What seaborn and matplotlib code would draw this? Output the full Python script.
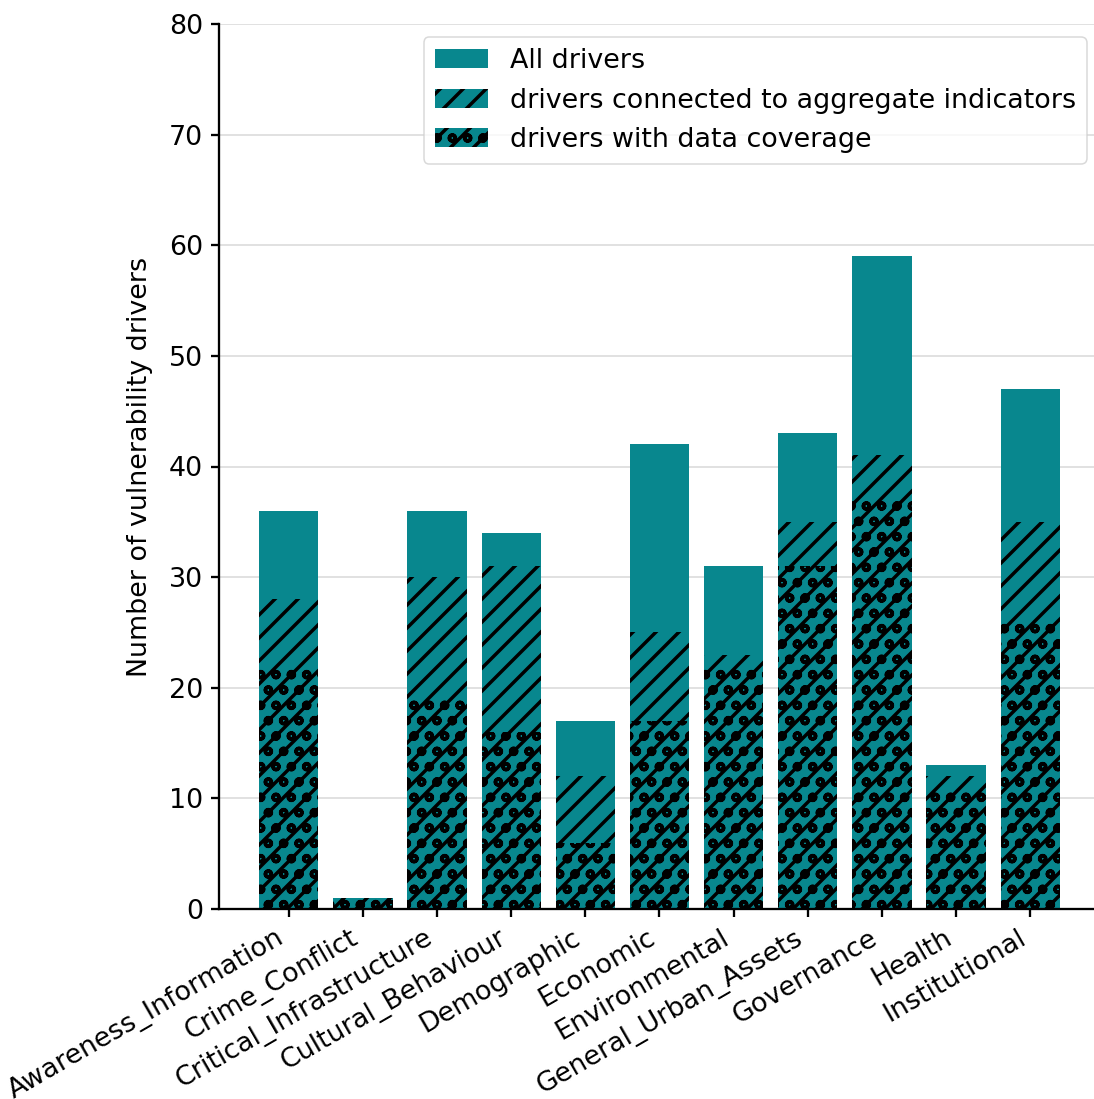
import matplotlib
matplotlib.use("Agg")
import matplotlib.pyplot as plt
import seaborn as sns
import pandas as pd

# Vulnerability driver counts per category
categories = [
    "Awareness_Information", "Crime_Conflict", "Critical_Infrastructure",
    "Cultural_Behaviour", "Demographic", "Economic", "Environmental",
    "General_Urban_Assets", "Governance", "Health", "Institutional",
]
all_drivers = [36, 1, 36, 34, 17, 42, 31, 43, 59, 13, 47]
connected_drivers = [28, 1, 30, 31, 12, 25, 23, 35, 41, 12, 35]
covered_drivers = [22, 1, 19, 16, 6, 17, 22, 31, 37, 11, 26]

series_labels = [
    "All drivers",
    "drivers connected to aggregate indicators",
    "drivers with data coverage",
]
hatches = [None, "////", "////ooo"]
bar_color = "#08878e"

df = pd.DataFrame({
    "category": categories,
    "all": all_drivers,
    "connected": connected_drivers,
    "covered": covered_drivers,
})

sns.set_style("ticks")
plt.rcParams.update({
    "font.family": ["DejaVu Sans"],
    "font.size": 7,
    "text.color": "black",
    "axes.labelcolor": "black",
    "axes.edgecolor": "black",
    "xtick.color": "black",
    "ytick.color": "black",
    "hatch.linewidth": 0.9,
    "hatch.color": "black",
    "axes.linewidth": 0.6,
    "xtick.major.size": 2.2,
    "ytick.major.size": 2.2,
    "xtick.major.width": 0.6,
    "ytick.major.width": 0.6,
})

dpi = 276
fig = plt.figure(figsize=(1094 / dpi, 1099 / dpi), dpi=dpi)
ax = fig.add_axes([219 / 1094, 190 / 1099, 881 / 1094, 885 / 1099])

for col, lab, h in zip(["all", "connected", "covered"], series_labels, hatches):
    sns.barplot(
        data=df, x="category", y=col, order=categories, ax=ax,
        color=bar_color, saturation=1, errorbar=None, width=0.8,
        edgecolor="black", linewidth=0, hatch=h, label=lab,
    )

ax.set_xlim(-0.94, len(categories) - 1 + 0.94)
ax.set_ylim(0, 80)
ax.set_yticks(range(0, 81, 10))
ax.set_xlabel("")
ax.set_ylabel("Number of vulnerability drivers", fontsize=7)
ax.yaxis.grid(True, color="#dddddd", linewidth=0.45)
ax.set_axisbelow(True)
sns.despine(ax=ax, top=True, right=True)

ax.tick_params(axis="both", labelsize=7, pad=2)
plt.setp(ax.get_xticklabels(), rotation=30, ha="right")

leg = ax.legend(loc="upper right", fontsize=7, frameon=True, framealpha=0.8,
                edgecolor="#d0d0d0")
leg.get_frame().set_linewidth(0.4)

fig.savefig("out.png", dpi=dpi)
